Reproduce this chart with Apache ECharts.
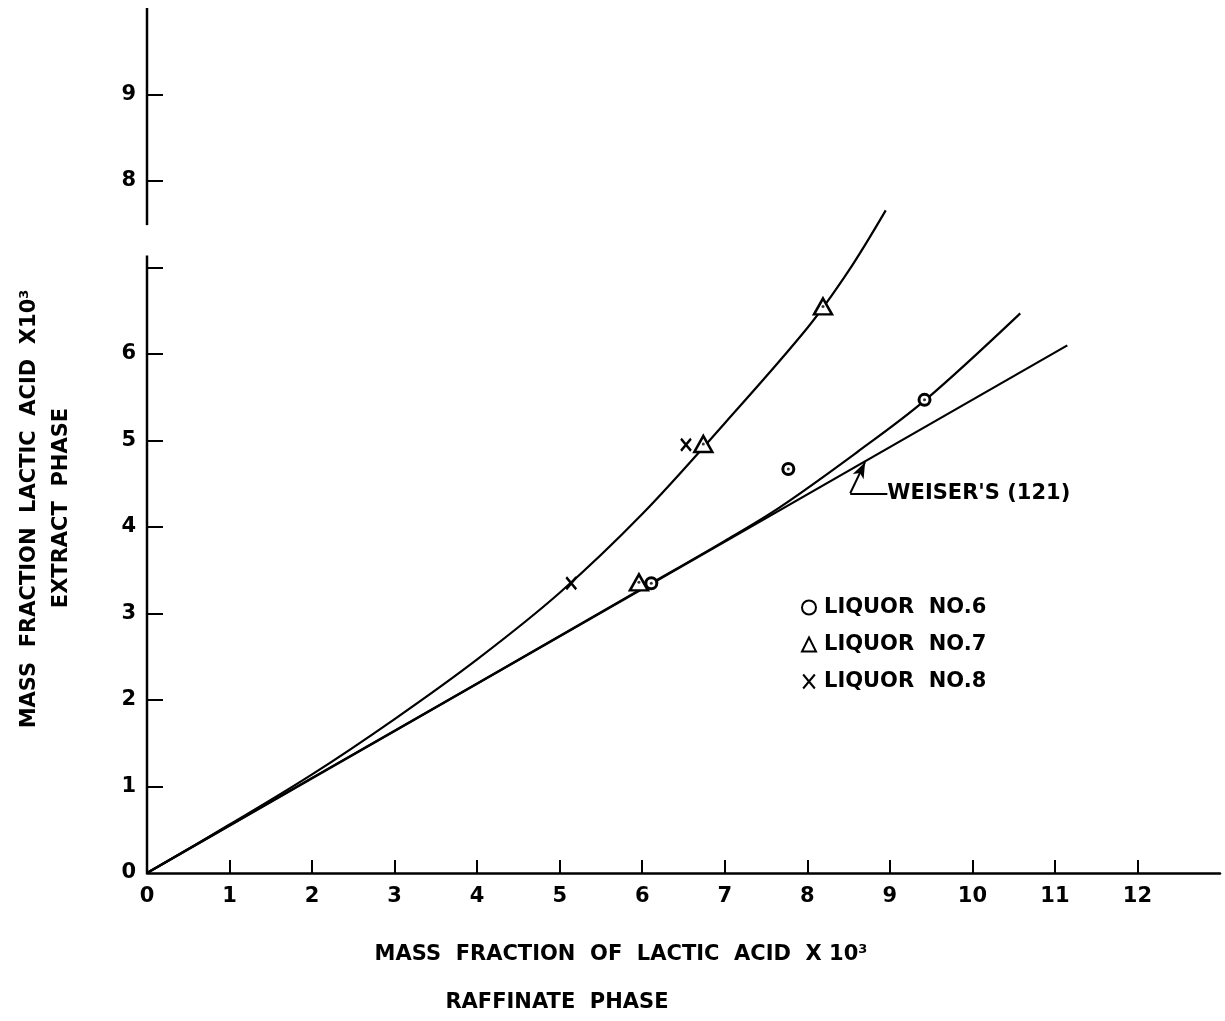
<!DOCTYPE html>
<html>
<head>
<meta charset="utf-8">
<script src="https://cdn.jsdelivr.net/npm/echarts@6/dist/echarts.min.js"></script>
<style>
html,body{margin:0;padding:0;background:#fff;}
#chart{width:1225px;height:1021px;}
</style>
</head>
<body>
<div id="chart"></div>
<script>
// ---- data ----
const xTickValues = [1,2,3,4,5,6,7,8,9,10,11,12];
const xLabelValues = [0,1,2,3,4,5,6,7,8,9,10,11,12];
const yTickValues = [1,2,3,4,5,6,7,8,9];
const yLabelValues = [0,1,2,3,4,5,6,8,9];
const yAxisBreak = [7.14, 7.49];

const weiserX = [0, 11.15];
const weiserY = [0, 6.10];

const liq6CurveX = [0, 2, 4, 6, 7, 7.67, 8.61, 9.42, 10.58];
const liq6CurveY = [0, 1.10, 2.19, 3.29, 3.84, 4.23, 4.87, 5.46, 6.47];

const upperCurveX = [0, 1, 2, 3, 4, 5, 6, 7, 8, 8.5, 8.95];
const upperCurveY = [0, 0.56, 1.14, 1.78, 2.47, 3.24, 4.15, 5.20, 6.30, 6.96, 7.66];

const liq6X = [6.11, 7.77, 9.42];
const liq6Y = [3.35, 4.67, 5.47];
const liq7X = [5.96, 6.74, 8.19];
const liq7Y = [3.36, 4.96, 6.55];
const liq8X = [5.14, 6.53];
const liq8Y = [3.35, 4.95];

const seriesNames = ['LIQUOR  NO.6', 'LIQUOR  NO.7', 'LIQUOR  NO.8'];
const weiserLabel = "WEISER'S (121)";
const weiserLeader = [[8.97, 4.39], [8.52, 4.39], [8.70, 4.75]];

const xTitle1 = 'MASS  FRACTION  OF  LACTIC  ACID  X 10';
const xTitle2 = 'RAFFINATE  PHASE';
const yTitle1 = 'MASS  FRACTION  LACTIC  ACID  X10';
const yTitle2 = 'EXTRACT  PHASE';

// ---- build ----
const zip = (xs, ys) => xs.map((x, i) => [x, ys[i]]);
const FF = '"DejaVu Sans", sans-serif';
const black = '#000';

const chart = echarts.init(document.getElementById('chart'), null, {renderer: 'canvas'});

const option = {
  animation: false,
  backgroundColor: '#fff',
  grid: {left: 147, right: 5, top: 8, bottom: 148, containLabel: false},
  xAxis: {
    type: 'value', min: 0, max: 13, interval: 1,
    axisLine: {show: true, onZero: false, lineStyle: {color: black, width: 2.5}},
    axisTick: {show: true, inside: true, length: 13, customValues: xTickValues, lineStyle: {color: black, width: 2}},
    axisLabel: {customValues: xLabelValues, color: black, fontSize: 21, fontWeight: 'bold', fontFamily: FF, margin: 13},
    splitLine: {show: false}
  },
  yAxis: {
    type: 'value', min: 0, max: 10, interval: 1,
    axisLine: {show: false},
    axisTick: {show: true, inside: true, length: 16, customValues: yTickValues, lineStyle: {color: black, width: 2}},
    axisLabel: {customValues: yLabelValues, color: black, fontSize: 21, fontWeight: 'bold', fontFamily: FF, margin: 11},
    splitLine: {show: false}
  },
  legend: {
    orient: 'vertical', left: 796, top: 592, itemGap: 16,
    itemWidth: 14, itemHeight: 14,
    data: seriesNames,
    textStyle: {color: black, fontSize: 21, fontWeight: 'bold', fontFamily: FF, padding: [0, 0, 0, 3]},
    selectedMode: false
  },
  graphic: [
    {type: 'text', x: 621, y: 955, style: {text: xTitle1 + '{s|3}', fill: black, font: 'bold 21px ' + FF, align: 'center', verticalAlign: 'middle',
      rich: {s: {fontSize: 13, fontWeight: 'bold', fontFamily: FF, verticalAlign: 'top', padding: [0, 0, 10, 0]}}}},
    {type: 'text', x: 557, y: 1003, style: {text: xTitle2, fill: black, font: 'bold 21px ' + FF, align: 'center', verticalAlign: 'middle'}},
    {type: 'text', x: 30, y: 509, rotation: Math.PI / 2, style: {text: yTitle1 + '{s|3}', fill: black, font: 'bold 21px ' + FF, align: 'center', verticalAlign: 'middle',
      rich: {s: {fontSize: 13, fontWeight: 'bold', fontFamily: FF, verticalAlign: 'top', padding: [0, 0, 10, 0]}}}},
    {type: 'text', x: 62, y: 508, rotation: Math.PI / 2, style: {text: yTitle2, fill: black, font: 'bold 21px ' + FF, align: 'center', verticalAlign: 'middle'}}
  ],
  series: [
    {name: 'yaxis-low', type: 'line', data: [[0, 0], [0, yAxisBreak[0]]], symbol: 'none', clip: false, silent: true,
      lineStyle: {color: black, width: 2.5}, z: 5},
    {name: 'yaxis-high', type: 'line', data: [[0, yAxisBreak[1]], [0, 10]], symbol: 'none', clip: false, silent: true,
      lineStyle: {color: black, width: 2.5}, z: 5},
    {name: 'weiser', type: 'line', data: zip(weiserX, weiserY), symbol: 'none', silent: true,
      lineStyle: {color: black, width: 2.2},
      markLine: {
        silent: true, animation: false,
        lineStyle: {color: black, width: 2, type: 'solid'},
        label: {show: false},
        data: [
          [{coord: weiserLeader[0], symbol: 'none'}, {coord: weiserLeader[1], symbol: 'none'}],
          [{coord: weiserLeader[1], symbol: 'none'}, {coord: weiserLeader[2], symbol: 'arrow', symbolSize: [9, 16]}]
        ]
      },
      markPoint: {
        silent: true, animation: false,
        symbol: 'circle', symbolSize: 0,
        label: {show: true, position: 'right', distance: 0, color: black, fontSize: 21, fontWeight: 'bold', fontFamily: FF, formatter: weiserLabel},
        data: [{coord: weiserLeader[0]}]
      }
    },
    {name: 'curve6', type: 'line', data: zip(liq6CurveX, liq6CurveY), symbol: 'none', smooth: 0.35, silent: true,
      lineStyle: {color: black, width: 2.2}},
    {name: 'curve78', type: 'line', data: zip(upperCurveX, upperCurveY), symbol: 'none', smooth: 0.35, silent: true,
      lineStyle: {color: black, width: 2.2}},
    {name: seriesNames[0], type: 'scatter', data: zip(liq6X, liq6Y), symbol: 'circle', symbolSize: 11,
      itemStyle: {color: '#fff', borderColor: black, borderWidth: 3, opacity: 1}, z: 10},
    {name: seriesNames[1], type: 'scatter', data: zip(liq7X, liq7Y), symbol: 'triangle', symbolSize: [18, 16],
      itemStyle: {color: '#fff', borderColor: black, borderWidth: 2.5, opacity: 1}, z: 10},
    {name: seriesNames[2], type: 'scatter', data: zip(liq8X, liq8Y), symbol: 'path://M0,0L10,12M10,0L0,12', symbolSize: [10, 12],
      itemStyle: {color: black, borderColor: black, borderWidth: 2.5, opacity: 1}, z: 10},
    {name: 'centers', type: 'scatter', data: zip(liq6X.concat(liq7X), liq6Y.concat(liq7Y)), symbol: 'circle', symbolSize: 3,
      itemStyle: {color: black}, z: 11, silent: true}
  ]
};
chart.setOption(option);
</script>
</body>
</html>
